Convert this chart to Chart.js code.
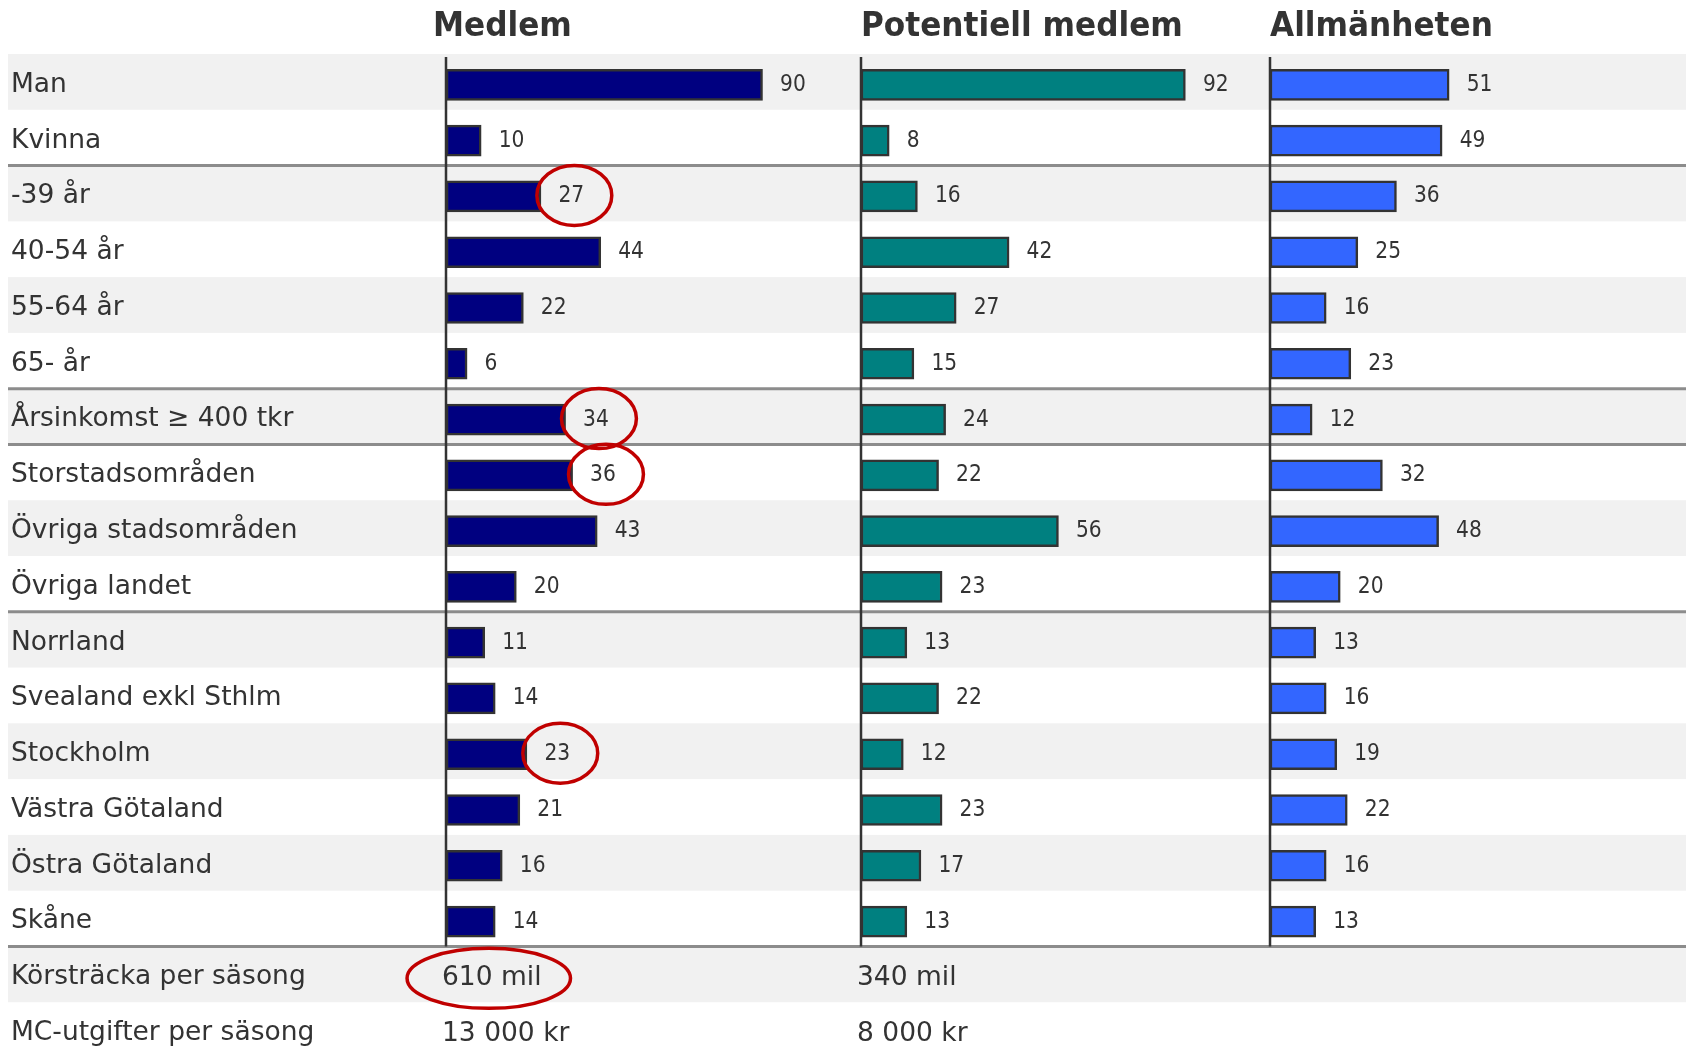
<!DOCTYPE html>
<html lang="sv">

<head>
    <meta charset="UTF-8">
    <title>Medlem / Potentiell medlem / Allmänheten</title>
    <script src="https://cdn.jsdelivr.net/npm/chart.js"></script>
    <style>
        html, body {
            margin: 0;
            padding: 0;
            background: #ffffff;
            overflow: hidden;
        }
        #chart {
            display: block;
        }
    </style>
</head>

<body>
    <canvas id="chart" width="1692" height="1062"></canvas>

    <script>
        // rader (kategorier)
        var rowLabels = [
            'Man', 'Kvinna',
            '-39 år', '40-54 år', '55-64 år', '65- år',
            'Årsinkomst ≥ 400 tkr',
            'Storstadsområden', 'Övriga stadsområden', 'Övriga landet',
            'Norrland', 'Svealand exkl Sthlm', 'Stockholm', 'Västra Götaland', 'Östra Götaland', 'Skåne',
            'Körsträcka per säsong', 'MC-utgifter per säsong'
        ];

        // kolumnrubriker
        var groupNames = ['Medlem', 'Potentiell medlem', 'Allmänheten'];

        // andelar i procent
        var medlem = [90, 10, 27, 44, 22, 6, 34, 36, 43, 20, 11, 14, 23, 21, 16, 14];
        var potentiell = [92, 8, 16, 42, 27, 15, 24, 22, 56, 23, 13, 22, 12, 23, 17, 13];
        var allmanheten = [51, 49, 36, 25, 16, 23, 12, 32, 48, 20, 13, 16, 19, 22, 16, 13];

        // textrader längst ner
        var korstracka = ['610 mil', '340 mil', ''];
        var mcUtgifter = ['13 000 kr', '8 000 kr', ''];

        // grupper av rader (linje under dessa rader)
        var groupEnds = [1, 5, 6, 9, 15];

        // inringade värden (Medlem) och inringad text
        var markedMedlem = [2, 6, 7, 12];
        var markedText = [[16, 0]];

        var textColor = '#333333';
        var labelFont = '26.5px "DejaVu Sans", Verdana, sans-serif';
        var valueFont = '23px "DejaVu Sans", Verdana, sans-serif';
        var titleFont = 'bold 33px "DejaVu Sans", Verdana, sans-serif';
        var bandShift = -3;

        function drawText(ctx, text, x, y, font, sx) {
            ctx.save();
            ctx.font = font;
            ctx.translate(x, y);
            ctx.scale(sx, 1);
            ctx.fillText(text, 0, 0);
            var w = ctx.measureText(text).width * sx;
            ctx.restore();
            return w;
        }

        function ring(ctx, cx, cy, w) {
            ctx.save();
            ctx.strokeStyle = '#c00000';
            ctx.lineWidth = 3.5;
            ctx.beginPath();
            ctx.ellipse(cx, cy, w * 0.6 + 22, 30, 0, 0, Math.PI * 2);
            ctx.stroke();
            ctx.restore();
        }

        var tablePlugin = {
            id: 'table',
            beforeDraw: function (chart) {
                var ctx = chart.ctx;
                var y = chart.scales.y;
                var area = chart.chartArea;
                var rowH = (area.bottom - area.top) / rowLabels.length;
                ctx.save();
                // randiga rader
                ctx.fillStyle = '#f1f1f1';
                rowLabels.forEach(function (l, i) {
                    if (i % 2 === 0) {
                        var top = y.getPixelForValue(i) - rowH / 2 + bandShift;
                        ctx.fillRect(8, top, 1678, rowH);
                    }
                });
                // linjer mellan grupper
                ctx.strokeStyle = '#8c8c8c';
                ctx.lineWidth = 3;
                groupEnds.forEach(function (i) {
                    var yy = y.getPixelForValue(i) + rowH / 2 + bandShift;
                    ctx.beginPath();
                    ctx.moveTo(8, yy);
                    ctx.lineTo(1686, yy);
                    ctx.stroke();
                });
                ctx.restore();
            },
            afterDatasetsDraw: function (chart) {
                var ctx = chart.ctx;
                var y = chart.scales.y;
                var area = chart.chartArea;
                var rowH = (area.bottom - area.top) / rowLabels.length;
                var axisIds = ['x1', 'x2', 'x3'];
                var lastBar = y.getPixelForValue(medlem.length - 1) + rowH / 2 + bandShift;

                ctx.save();
                // nollinjer
                ctx.strokeStyle = textColor;
                ctx.lineWidth = 2.5;
                axisIds.forEach(function (id) {
                    var x0 = chart.scales[id].getPixelForValue(0);
                    ctx.beginPath();
                    ctx.moveTo(x0, area.top);
                    ctx.lineTo(x0, lastBar);
                    ctx.stroke();
                });

                ctx.fillStyle = textColor;
                ctx.textBaseline = 'middle';
                ctx.textAlign = 'left';

                // värden vid staplarna
                chart.data.datasets.forEach(function (ds, di) {
                    var meta = chart.getDatasetMeta(di);
                    meta.data.forEach(function (bar, j) {
                        var v = ds.data[j];
                        if (v === null || v === undefined) return;
                        var tx = bar.x + 17.5;
                        var w = drawText(ctx, String(v), tx, bar.y, valueFont, 0.88);
                        if (di === 0 && markedMedlem.indexOf(j) !== -1) {
                            ring(ctx, tx + w / 2 + 3, bar.y - 1, w);
                        }
                    });
                });

                // textrader
                [korstracka, mcUtgifter].forEach(function (vals, r) {
                    var row = medlem.length + r;
                    var yy = y.getPixelForValue(row) + 1;
                    vals.forEach(function (t, k) {
                        if (!t) return;
                        var tx = chart.scales[axisIds[k]].getPixelForValue(0) - 4;
                        var w = drawText(ctx, t, tx, yy, labelFont, 1);
                        markedText.forEach(function (m) {
                            if (m[0] === row && m[1] === k) ring(ctx, tx + w / 2 - 3, yy, w);
                        });
                    });
                });

                // rubriker
                ctx.textBaseline = 'alphabetic';
                var titleOffset = [-13, 0, 0];
                axisIds.forEach(function (id, k) {
                    var x0 = chart.scales[id].getPixelForValue(0) + titleOffset[k];
                    drawText(ctx, groupNames[k], x0, 36, titleFont, 0.945);
                });
                ctx.restore();
            }
        };

        function panelAxis(weight, max) {
            return {
                type: 'linear',
                position: 'bottom',
                stack: 'panels',
                stackWeight: weight,
                min: 0,
                max: max,
                display: false
            };
        }

        var ctx = document.getElementById('chart').getContext('2d');
        var chart = new Chart(ctx, {
            type: 'bar',
            data: {
                labels: rowLabels,
                datasets: [{
                    label: groupNames[0],
                    data: medlem,
                    xAxisID: 'x1',
                    backgroundColor: '#000080'
                }, {
                    label: groupNames[1],
                    data: potentiell,
                    xAxisID: 'x2',
                    backgroundColor: '#008080'
                }, {
                    label: groupNames[2],
                    data: allmanheten,
                    xAxisID: 'x3',
                    backgroundColor: '#3366ff'
                }]
            },
            options: {
                indexAxis: 'y',
                responsive: false,
                animation: false,
                devicePixelRatio: 1,
                layout: {
                    padding: { top: 57, left: 11, right: 11, bottom: 1 }
                },
                datasets: {
                    bar: {
                        grouped: false,
                        barThickness: 31,
                        borderWidth: 2.5,
                        borderColor: '#333333',
                        borderSkipped: false
                    }
                },
                plugins: {
                    legend: { display: false },
                    tooltip: { enabled: false }
                },
                scales: {
                    y: {
                        type: 'category',
                        position: 'left',
                        grid: { display: false },
                        border: { display: false },
                        ticks: {
                            autoSkip: false,
                            crossAlign: 'far',
                            padding: 0,
                            color: textColor,
                            font: { family: '"DejaVu Sans", Verdana, sans-serif', size: 26.5 }
                        },
                        afterFit: function (scale) {
                            scale.width = 435;
                            scale.paddingTop = 0;
                            scale.paddingBottom = 0;
                        }
                    },
                    x1: panelAxis(415, 118),
                    x2: panelAxis(409, 116),
                    x3: panelAxis(411, 117)
                }
            },
            plugins: [tablePlugin]
        });
    </script>
</body>

</html>
